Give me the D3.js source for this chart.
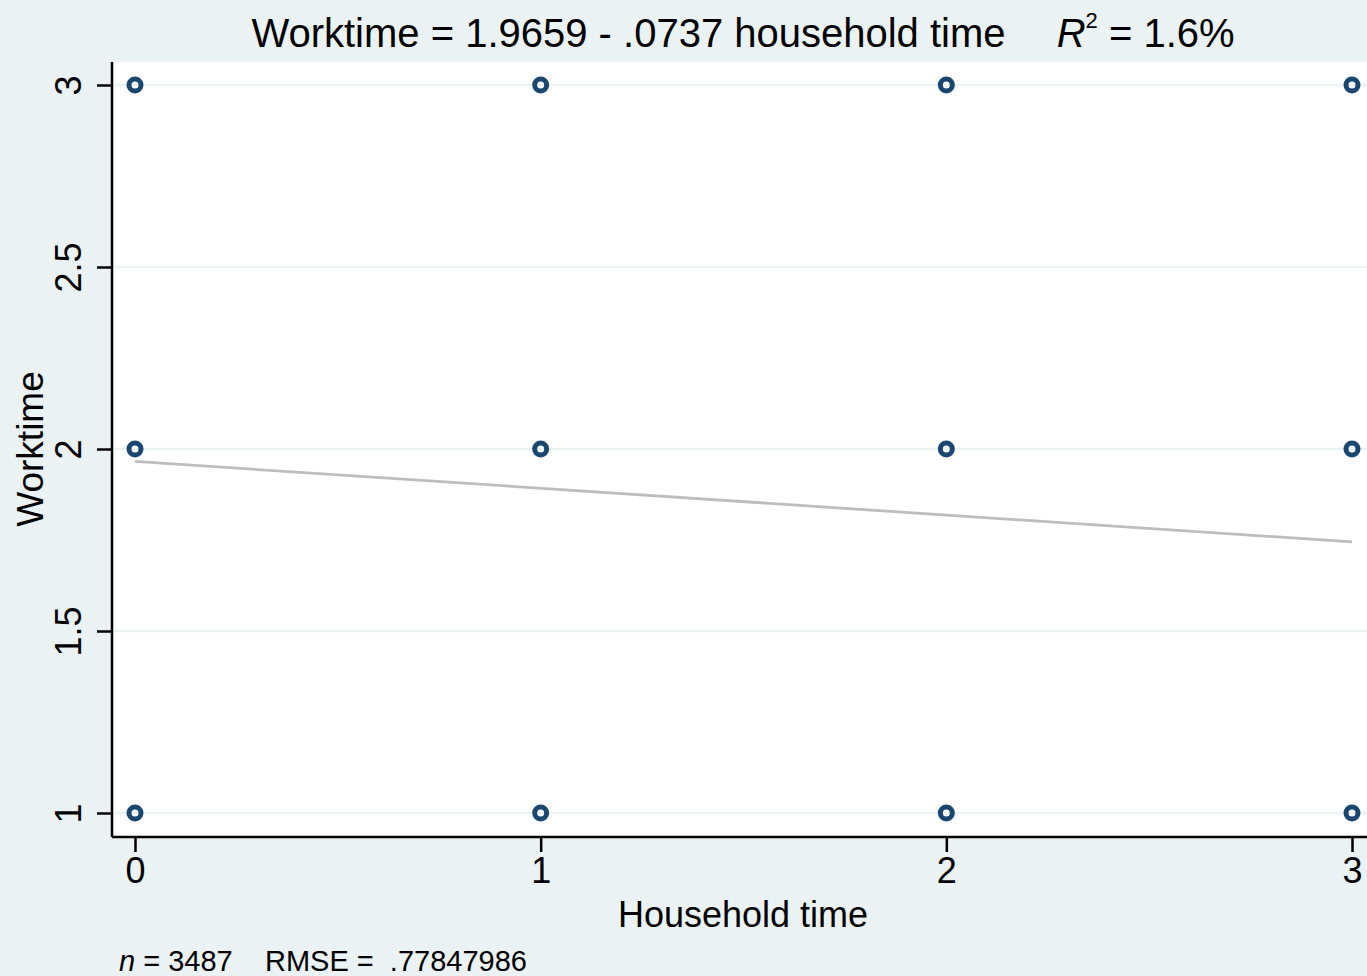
<!DOCTYPE html>
<html><head><meta charset="utf-8">
<script src="https://cdn.jsdelivr.net/npm/d3@7"></script>
<style>body{margin:0;background:#EAF2F3;} svg{display:block;font-family:"Liberation Sans",Arial,Helvetica,sans-serif;}</style>
</head><body>
<script>
const householdTime = [0,0,0,1,1,1,2,2,2,3,3,3];
const worktime      = [1,2,3,1,2,3,1,2,3,1,2,3];
const xTicks = [0,1,2,3];
const yTicks = [1,1.5,2,2.5,3];
const yTickLabels = ["1","1.5","2","2.5","3"];
const intercept = 1.9659, slope = -0.0737;
const nObs = 3487, rmse = ".77847986", r2 = "1.6%";

const W=1367,H=976;
const svg=d3.select("body").append("svg").attr("width",W).attr("height",H);
svg.append("rect").attr("width",W).attr("height",H).attr("fill","#EAF2F3");
const L=112, T=62, R=1367, B=837;
const x=d3.scaleLinear().domain([0,3]).range([135,1352]);
const y=d3.scaleLinear().domain([1,3]).range([813,85]);
svg.append("rect").attr("x",L).attr("y",T).attr("width",R-L).attr("height",B-T).attr("fill","#fff");
// gridlines
svg.append("g").selectAll("line").data(yTicks).join("line")
  .attr("x1",L).attr("x2",R).attr("y1",d=>y(d)).attr("y2",d=>y(d))
  .attr("stroke","#EAF2F3").attr("stroke-width",2.5);
// fit line
svg.append("line").attr("x1",x(0)).attr("x2",x(3))
  .attr("y1",y(intercept)).attr("y2",y(intercept+slope*3))
  .attr("stroke","#BDBDBD").attr("stroke-width",2.8);
// points
svg.append("g").selectAll("circle").data(householdTime.map((h,i)=>[h,worktime[i]])).join("circle")
  .attr("cx",d=>x(d[0])).attr("cy",d=>y(d[1])).attr("r",6)
  .attr("fill","none").attr("stroke","#1A476F").attr("stroke-width",5);
// axes
const xAxis=d3.axisBottom(x).tickValues(xTicks).tickSize(15).tickFormat(d3.format("d"));
const gx=svg.append("g").attr("transform",`translate(0,${B})`).call(xAxis);
gx.select(".domain").remove();
gx.selectAll(".tick line").attr("stroke","#000").attr("stroke-width",2.5);
gx.selectAll(".tick text").attr("font-size",36).attr("fill","#000").attr("dy","0.9em").attr("y",14);
svg.append("line").attr("x1",L).attr("x2",R).attr("y1",B).attr("y2",B).attr("stroke","#000").attr("stroke-width",2.5);

const yAxis=d3.axisLeft(y).tickValues(yTicks).tickSize(15).tickFormat((d,i)=>yTickLabels[i]);
const gy=svg.append("g").attr("transform",`translate(${L},0)`).call(yAxis);
gy.select(".domain").remove();
gy.selectAll(".tick line").attr("stroke","#000").attr("stroke-width",2.5);
gy.selectAll(".tick text").attr("font-size",36).attr("fill","#000")
  .attr("text-anchor","middle").attr("transform","translate(-44,0) rotate(-90)").attr("x",0).attr("y",0).attr("dy","0.35em");
svg.append("line").attr("x1",L).attr("x2",L).attr("y1",T).attr("y2",B).attr("stroke","#000").attr("stroke-width",2.5);

// axis titles
svg.append("text").attr("x",743).attr("y",927).attr("text-anchor","middle").attr("font-size",36).text("Household time");
svg.append("text").attr("transform",`translate(43,449) rotate(-90)`).attr("text-anchor","middle").attr("font-size",37).text("Worktime");

// title
const title=svg.append("text").attr("x",743).attr("y",47).attr("text-anchor","middle").attr("font-size",40);
title.append("tspan").text(`Worktime = ${intercept} - ${String(Math.abs(slope)).replace(/^0/,"")} household time\u2003 `);
title.append("tspan").attr("font-style","italic").text("R");
title.append("tspan").attr("font-size",22).attr("dy",-19).text("2");
title.append("tspan").attr("dy",19).text(` = ${r2}`);

// footnote
const fn=svg.append("text").attr("x",119).attr("y",971).attr("font-size",29).style("white-space","pre");
fn.append("tspan").attr("font-style","italic").text("n");
fn.append("tspan").text(` = ${nObs}    RMSE =  ${rmse}`);
</script>
</body></html>
